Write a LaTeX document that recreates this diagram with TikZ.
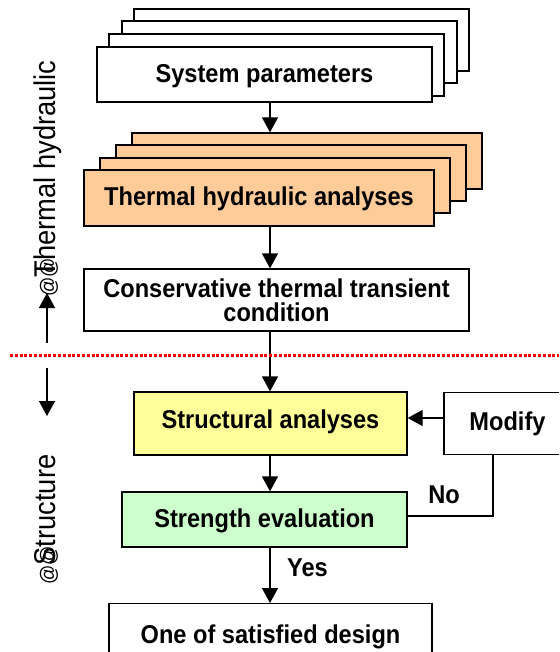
\documentclass[tikz,border=0pt]{standalone}
\usepackage{fontspec}
\setmainfont{Liberation Sans}
\newfontfamily\boxfont[FakeStretch=0.915]{Liberation Sans Bold}
\newfontfamily\sidefont[FakeStretch=0.91]{Liberation Sans}
\usetikzlibrary{arrows.meta}
\definecolor{peach}{HTML}{FFCC99}
\definecolor{lyellow}{HTML}{FFFF99}
\definecolor{lgreen}{HTML}{CCFFCC}
\newcommand{\atsize}{\fontsize{21}{21}\selectfont}
\begin{document}
\begin{tikzpicture}[x=1pt,y=-1pt,
  box/.style={draw=black, line width=1.3pt, inner sep=0pt, fill=white,
    font=\boxfont\fontsize{25.8}{22}\selectfont, text height=18.5pt, text depth=0pt},
  arr/.style={line width=1.3pt, -{Triangle[width=16pt,length=15pt]}},
  conn/.style={line width=1.3pt},
  lbl/.style={inner sep=0pt, font=\boxfont\fontsize{25.8}{22}\selectfont},
  side/.style={inner sep=0pt, rotate=90, anchor=base west, font=\sidefont\fontsize{30}{30}\selectfont}
]
\useasboundingbox (0,0) rectangle (559,652);
\clip (0,0) rectangle (559,652);
\coordinate (main) at (270,0);

% System parameters stack
\node[box, minimum width=335pt, minimum height=62pt] (sp4) at (301.5,40) {};
\node[box, minimum width=335pt, minimum height=62pt] (sp3) at (289.5,52) {};
\node[box, minimum width=335pt, minimum height=62pt] (sp2) at (276.5,65) {};
\node[box, minimum width=335pt, minimum height=55pt, text depth=1.5pt] (sp1) at (264.5,74.5) {System parameters};

% Thermal hydraulic analyses stack
\node[box, fill=peach, minimum width=350pt, minimum height=56pt] (th4) at (307,161) {};
\node[box, fill=peach, minimum width=350pt, minimum height=56pt] (th3) at (291,173) {};
\node[box, fill=peach, minimum width=350pt, minimum height=55pt] (th2) at (275,185.5) {};
\node[box, fill=peach, minimum width=350pt, minimum height=56pt, text depth=4pt] (th1) at (259,198) {Thermal hydraulic analyses};

% Conservative condition
\node[box, minimum width=385pt, minimum height=62pt, align=center, text height=, text depth=,
      font=\boxfont\fontsize{25.8}{24}\selectfont] (cons) at (276.5,300)
  {Conservative thermal transient\\condition};

% Structural
\node[box, fill=lyellow, minimum width=273pt, minimum height=63pt, text depth=9.5pt] (str) at (270.5,423.5) {Structural analyses};
\node[box, minimum width=127pt, minimum height=62pt, text depth=5.5pt] (mod) at (507.5,423.5) {Modify};
\node[box, fill=lgreen, minimum width=285pt, minimum height=55pt, text depth=3pt] (stren) at (264.5,519.5) {Strength evaluation};
\node[box, minimum width=323pt, minimum height=80pt, anchor=north] (one) at (270.5,603) {};
\node[lbl, anchor=base] (onetxt) at (270.5,643) {One of satisfied design};

% main arrows
\draw[arr] (sp1.south -| main) -- (th4.north -| main);
\draw[arr] (th1.south -| main) -- (cons.north -| main);
\draw[arr] (cons.south -| main) -- (str.north -| main);
\draw[arr] (str.south -| main) -- (stren.north -| main);
\draw[arr] (stren.south -| main) -- (one.north -| main);

% feedback
\coordinate (fb) at (0,418);
\draw[arr] (mod.west |- fb) -- (str.east |- fb);
\coordinate (nocorner) at (493,516);
\draw[conn] (mod.south -| nocorner) -- (nocorner) -- (stren.east |- nocorner);
\node[lbl, anchor=base] (no) at (444,503) {No};
\node[lbl, anchor=base] (yes) at (307.5,576) {Yes};

% divider
\coordinate (dl) at (10,355);
\coordinate (dr) at (559,355);
\draw[red, line width=3pt, dash pattern=on 3pt off 1.8pt] (dl) -- (dr);

% side arrows
\coordinate (ua) at (47,343);
\coordinate (ub) at (47,293);
\coordinate (da) at (47,368);
\coordinate (db) at (47,416);
\draw[arr] (ua) -- (ub);
\draw[arr] (da) -- (db);

% side labels
\node[side] (thl) at (55,297) {{\atsize @\rlap{@}}Thermal hydraulic};
\node[side] (stl) at (55,585) {{\atsize @\rlap{@}}Structure};
\end{tikzpicture}
\end{document}
